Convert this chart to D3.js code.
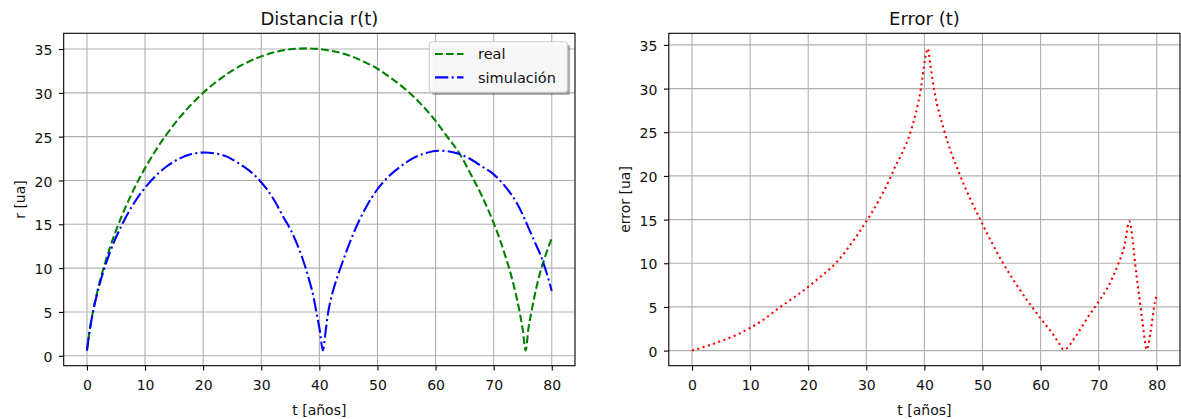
<!DOCTYPE html>
<html>
<head>
<meta charset="utf-8">
<script src="https://cdn.jsdelivr.net/npm/d3@7"></script>
<style>
  body { margin: 0; background: #fff; }
  svg { display: block; font-family: "DejaVu Sans", sans-serif; }
</style>
</head>
<body>
<div id="chart"></div>
<script>
// data
const tReal = [0, 0.5, 1, 2, 3, 4, 5, 6, 8, 10, 12, 15, 18, 20, 22, 25, 28, 30, 33, 36, 38,
    40, 42, 45, 48, 50, 52, 55, 58, 60, 62, 64, 66, 68, 70, 71, 72, 73, 74, 74.5, 75, 75.5,
    76, 76.5, 77, 78, 79, 80];
const rReal = [0.59, 3.0, 4.91, 7.91, 10.33, 12.43, 14.29, 15.96, 18.9, 21.41, 23.61, 26.4, 28.7, 30.0, 31.12, 32.53, 33.61, 34.16, 34.74, 35.03, 35.07,
    35.0, 34.8, 34.3, 33.45, 32.75, 31.85, 30.3, 28.35, 26.8, 25.0, 23.2, 20.8, 18.2, 15.15, 13.4, 11.4, 9.2, 6.5, 4.9, 3.0, 0.6,
    3.2, 5.0, 6.7, 9.5, 11.6, 13.4];

const tSim = [0, 0.5, 1, 2, 3, 4, 5, 6, 8, 10, 12, 14, 16, 18, 20.3, 22, 24, 26, 28, 30, 32, 34, 35, 36, 37, 38, 39, 39.6, 40.1, 40.6,
    41.1, 41.5, 42, 43, 44, 45, 46.7, 48, 50, 52, 54, 56, 58, 60.5, 62, 64, 66, 68, 70, 72, 74, 75, 76, 77, 78, 79, 80];
const rSim = [0.6, 3.0, 4.85, 7.71, 9.97, 11.86, 13.5, 14.92, 17.31, 19.18, 20.64, 21.74, 22.52, 23.01, 23.2, 23.1, 22.75, 22.0, 21.1, 19.8, 18.0, 15.6, 14.45, 13.0, 11.3, 9.2, 6.7, 4.6, 2.8, 0.6,
    2.9, 4.9, 6.5, 8.8, 10.7, 12.5, 15.2, 16.9, 19.0, 20.5, 21.6, 22.5, 23.05, 23.4, 23.35, 23.05, 22.45, 21.6, 20.7, 19.3, 17.4, 16.1, 14.6, 13.1, 11.6, 9.7, 7.4];

const tErr = [0, 2, 5, 8, 10, 12, 15, 18, 20, 22, 25, 28, 30, 32, 34, 35, 36, 37.7, 39.4, 40.3, 40.6,
    41, 41.7, 43.4, 46, 49.8, 53.2, 56.1, 60.1, 62, 63.3, 64, 66, 68.2, 70, 71.6, 73.3, 74.4, 75.3,
    75.8, 76.3, 76.9, 77.5, 78.3, 78.9, 79.7, 80];
const errVals = [0, 0.4, 1.1, 1.9, 2.6, 3.4, 4.9, 6.3, 7.3, 8.4, 10.2, 12.8, 14.8, 17.0, 19.6, 21.1, 22.4, 25.2, 30.0, 34.0, 34.6,
    32.8, 29.8, 25.2, 20.3, 14.75, 10.4, 7.3, 3.6, 2.0, 0.7, 0.1, 1.6, 3.9, 5.6, 7.3, 9.8, 11.9, 14.8,
    13.0, 9.8, 6.6, 3.5, 0.1, 2.0, 5.6, 6.3];

const xTicks = [0, 10, 20, 30, 40, 50, 60, 70, 80];
const yTicks = [0, 5, 10, 15, 20, 25, 30, 35];
const legendLabels = ["real", "simulación"];

const width = 1181, height = 419;
const lw = 2.08; // 1.5pt line

const svg = d3.select("#chart").append("svg")
    .attr("width", width)
    .attr("height", height);

function padded(ext) {
    const d = ext[1] - ext[0];
    return [ext[0] - 0.05 * d, ext[1] + 0.05 * d];
}

// draws frame, grid, ticks and labels for one panel, returns the scales
function makePanel(box, yValues, title, ylabel) {
    const x = d3.scaleLinear().domain(padded([0, 80])).range([box.x0, box.x1]);
    const y = d3.scaleLinear().domain(padded(d3.extent(yValues))).range([box.y1, box.y0]);

    const g = svg.append("g");

    // grid
    g.selectAll("line.gx").data(xTicks).enter().append("line")
        .attr("x1", d => x(d)).attr("x2", d => x(d))
        .attr("y1", box.y0).attr("y2", box.y1)
        .attr("stroke", "#b0b0b0").attr("stroke-width", 1.1);
    g.selectAll("line.gy").data(yTicks).enter().append("line")
        .attr("y1", d => y(d)).attr("y2", d => y(d))
        .attr("x1", box.x0).attr("x2", box.x1)
        .attr("stroke", "#b0b0b0").attr("stroke-width", 1.1);

    // axes
    const ax = g.append("g")
        .attr("transform", `translate(0,${box.y1})`)
        .call(d3.axisBottom(x).tickValues(xTicks).tickSize(4.86).tickPadding(9.5).tickSizeOuter(0));
    const ay = g.append("g")
        .attr("transform", `translate(${box.x0},0)`)
        .call(d3.axisLeft(y).tickValues(yTicks).tickSize(4.86).tickPadding(6.5).tickSizeOuter(0));
    [ax, ay].forEach(a => {
        a.select(".domain").remove();
        a.attr("font-family", null).attr("font-size", null);
        a.selectAll("line").attr("stroke", "#000").attr("stroke-width", 1.1);
        a.selectAll("text").attr("fill", "#111").style("font-size", "14px");
    });
    ay.selectAll("text").attr("dy", "0.40em");

    // title and labels
    svg.append("text")
        .attr("x", (box.x0 + box.x1) / 2).attr("y", 24.5)
        .attr("text-anchor", "middle")
        .style("font-size", "18px").attr("fill", "#111")
        .text(title);
    svg.append("text")
        .attr("x", (box.x0 + box.x1) / 2).attr("y", 414.5)
        .attr("text-anchor", "middle")
        .style("font-size", "14px").attr("fill", "#111")
        .text("t [años]");
    svg.append("text")
        .attr("transform", `translate(${box.x0 - 39},${(box.y0 + box.y1) / 2}) rotate(-90)`)
        .attr("text-anchor", "middle")
        .style("font-size", "14px").attr("fill", "#111")
        .text(ylabel);

    return { x, y, g, box };
}

function drawLine(p, ts, vs, color, dash) {
    const pts = ts.map((t, i) => [t, vs[i]]);
    const line = d3.line()
        .x(d => p.x(d[0]))
        .y(d => p.y(d[1]))
        .curve(d3.curveMonotoneX);
    p.g.append("path")
        .datum(pts)
        .attr("d", line)
        .attr("fill", "none")
        .attr("stroke", color)
        .attr("stroke-width", lw)
        .attr("stroke-dasharray", dash);
}

function frame(p) {
    p.g.append("rect")
        .attr("x", p.box.x0).attr("y", p.box.y0)
        .attr("width", p.box.x1 - p.box.x0).attr("height", p.box.y1 - p.box.y0)
        .attr("fill", "none").attr("stroke", "#000").attr("stroke-width", 1.1);
}

const dashed = "7.7,3.3";
const dashDot = "13.3,3.33,2.08,3.33";
const dotted = "2.08,3.44";

// left: Distancia r(t)
const left = makePanel({ x0: 63.7, x1: 575, y0: 33.3, y1: 365.7 }, rReal.concat(rSim), "Distancia r(t)", "r [ua]");
drawLine(left, tReal, rReal, "#008000", dashed);
drawLine(left, tSim, rSim, "#0000ff", dashDot);
frame(left);

// legend
const lg = svg.append("g");
const lx1 = 567.3, ly0 = 41.7, lh = 50.6;
const lx0 = 429.3;
lg.append("rect")
    .attr("x", lx0 + 2.8).attr("y", ly0 + 2.8).attr("width", lx1 - lx0).attr("height", lh)
    .attr("rx", 2.8).attr("fill", "#4d4d4d").attr("fill-opacity", 0.45);
lg.append("rect")
    .attr("x", lx0).attr("y", ly0).attr("width", lx1 - lx0).attr("height", lh)
    .attr("rx", 2.8).attr("fill", "#fff").attr("fill-opacity", 0.9)
    .attr("stroke", "#cccccc").attr("stroke-width", 1.1);
const legendStyle = [["#008000", dashed], ["#0000ff", dashDot]];
legendLabels.forEach((lab, i) => {
    const cy = 54 + i * 23.4;
    lg.append("line")
        .attr("x1", 435).attr("x2", 463.5).attr("y1", cy).attr("y2", cy)
        .attr("stroke", legendStyle[i][0]).attr("stroke-width", lw)
        .attr("stroke-dasharray", legendStyle[i][1]);
    lg.append("text")
        .attr("x", 478).attr("y", cy).attr("dy", "0.36em")
        .style("font-size", "14.5px").attr("fill", "#111")
        .text(lab);
});

// right: Error (t)
const right = makePanel({ x0: 668.8, x1: 1180, y0: 33.3, y1: 365.7 }, errVals, "Error (t)", "error [ua]");
drawLine(right, tErr, errVals, "#ff0000", dotted);
frame(right);
</script>
</body>
</html>
